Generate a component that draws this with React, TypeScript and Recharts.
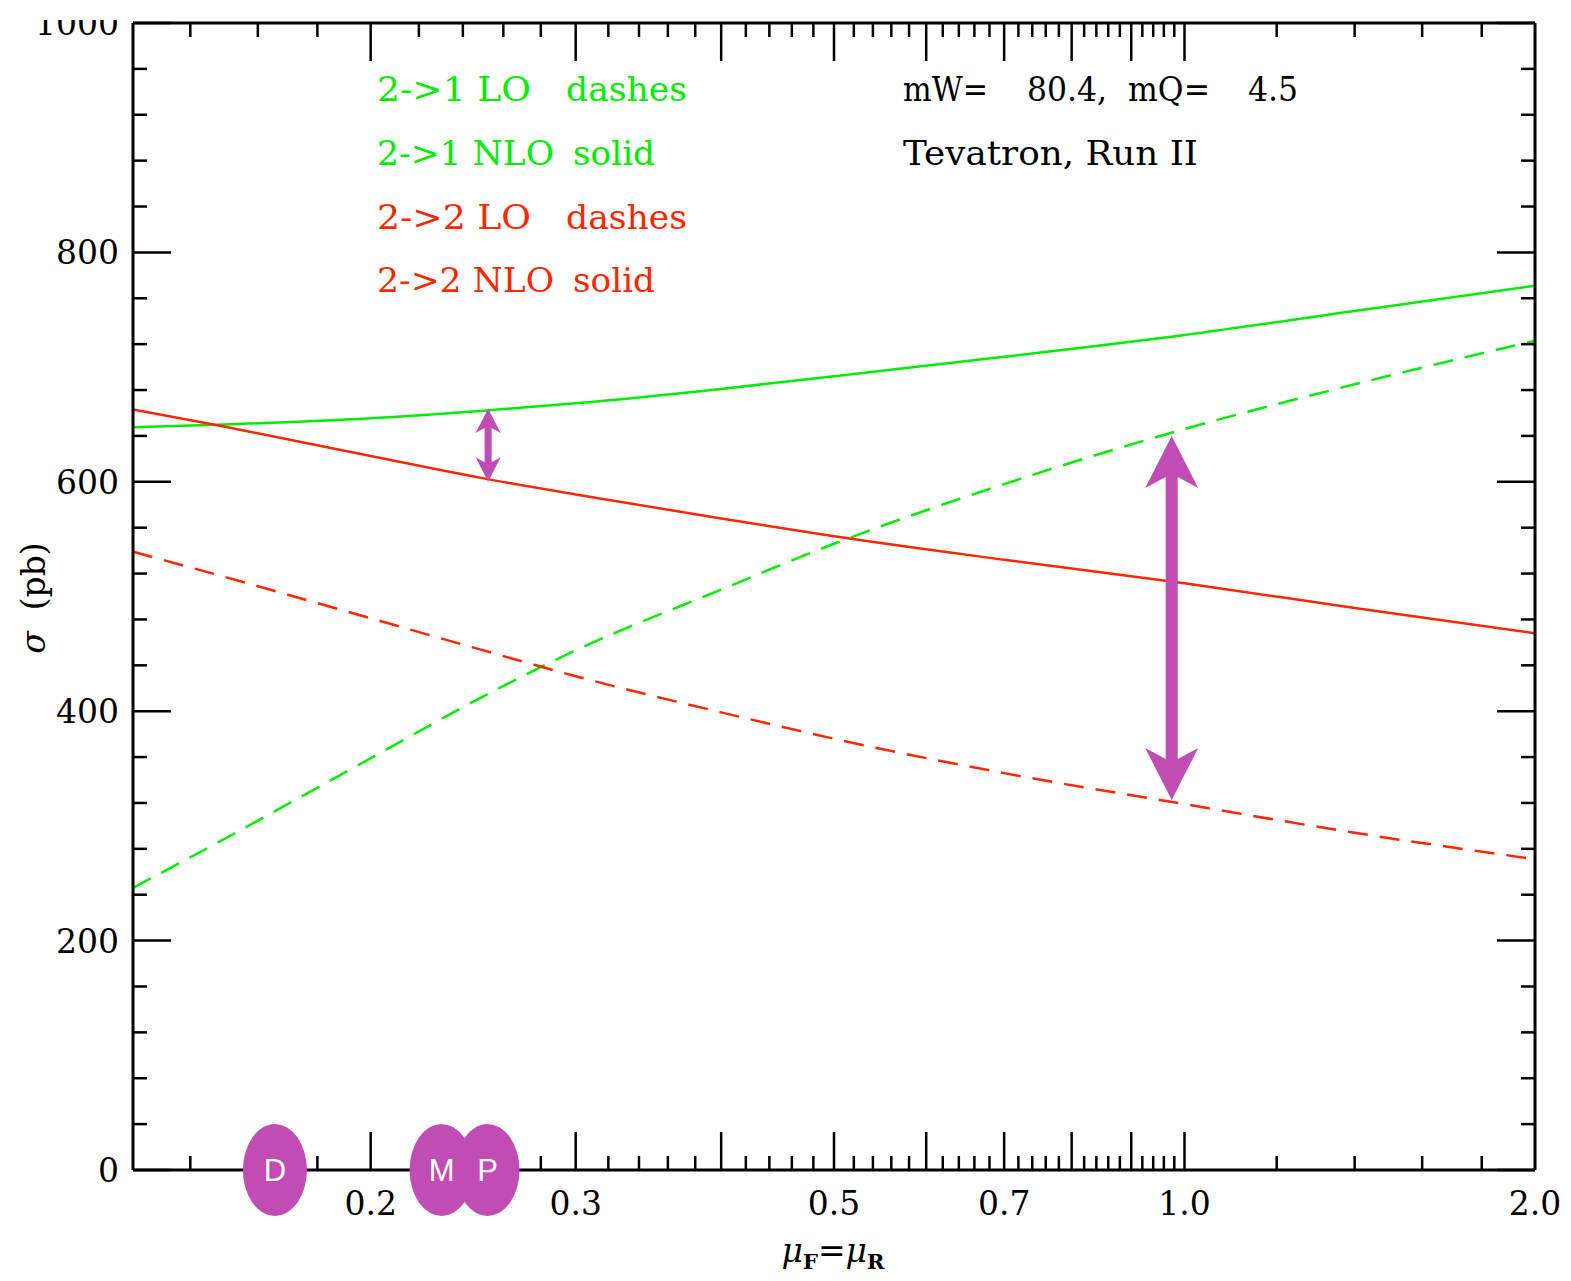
import React from 'react'
import { LineChart, Line, XAxis, YAxis, ReferenceLine, ReferenceDot } from 'recharts'

// scale mu_F = mu_R (in units of mW) and cross sections in pb
const mu = [0.125, 0.15, 0.2, 0.25, 0.3, 0.4, 0.5, 0.7, 1.0, 1.4, 2.0]
const nlo21 = [647.5, 650, 655.5, 662, 668.5, 681, 692, 709, 728, 749, 771]
const lo21 = [246, 289, 359, 413, 453, 506, 546, 598, 646, 685, 723]
const nlo22 = [663, 648, 622.5, 603, 589, 568, 552.5, 532, 511.5, 490, 468]
const lo22 = [539, 517, 481, 453, 430.5, 399, 376, 346, 319, 294, 271]

const xMajor = [0.2, 0.3, 0.4, 0.5, 0.6, 0.7, 0.8, 0.9, 1.0]
const xMinor = [
  0.14, 0.16, 0.18, 0.22, 0.24, 0.26, 0.28, 0.32, 0.34, 0.36, 0.38,
  0.42, 0.44, 0.46, 0.48, 0.52, 0.54, 0.56, 0.58, 0.62, 0.64, 0.66, 0.68,
  0.72, 0.74, 0.76, 0.78, 0.82, 0.84, 0.86, 0.88, 0.92, 0.94, 0.96, 0.98,
  1.2, 1.4, 1.6, 1.8,
]
// bottom ticks covered by the D / M / P markers
const xHiddenBottom = [0.16, 0.22, 0.24, 0.26]
const xLabels: Record<string, string> = { '0.2': '0.2', '0.3': '0.3', '0.5': '0.5', '0.7': '0.7', '1': '1.0', '2': '2.0' }
const yMajor = [0, 200, 400, 600, 800, 1000]
const yMinor = [40, 80, 120, 160, 240, 280, 320, 360, 440, 480, 520, 560, 640, 680, 720, 760, 840, 880, 920, 960]

// scale choices marked on the axis
const markers = [
  { name: 'D', mu: 0.1655 },
  { name: 'M', mu: 0.2301 },
  { name: 'P', mu: 0.252 },
]
// uncertainty arrows
const arrows = [
  { mu: 0.2523, top: 664, bottom: 600, big: false },
  { mu: 0.975, top: 640, bottom: 322.6, big: true },
]

const data = mu.map((m, i) => ({ mu: m, nlo21: nlo21[i], lo21: lo21[i], nlo22: nlo22[i], lo22: lo22[i] }))
const xTicksTop = [...xMajor, ...xMinor, 2.0].sort((a, b) => a - b)
const xTicksBottom = xTicksTop.filter((v) => !xHiddenBottom.includes(v))
const yTicks = [...yMajor, ...yMinor].sort((a, b) => a - b)

const GREEN = '#00ec00'
const RED = '#ff2600'
const PURPLE = '#c04db3'
const FONT = '"DejaVu Serif", serif'
const FS = 33

function xTick(p: any, side: 'top' | 'bottom') {
  const v = p.payload.value
  const len = xMajor.includes(v) ? 38 : 14
  const dir = side === 'bottom' ? -1 : 1
  const label = side === 'bottom' ? xLabels[String(v)] : undefined
  return (
    <g>
      {v < 2 && <line x1={p.x} y1={p.y} x2={p.x} y2={p.y + dir * len} stroke="#000" strokeWidth={2.5} />}
      {label && (
        <text x={p.x} y={p.y + 45} textAnchor="middle" fontFamily={FONT} fontSize={FS} fill="#000">{label}</text>
      )}
    </g>
  )
}

function yTick(p: any, side: 'left' | 'right') {
  const v = p.payload.value
  const major = yMajor.includes(v)
  const len = major ? 38 : 14
  const dir = side === 'left' ? 1 : -1
  return (
    <g>
      <line x1={p.x} y1={p.y} x2={p.x + dir * len} y2={p.y} stroke="#000" strokeWidth={2.5} />
      {side === 'left' && major && (
        <text x={p.x - 14} y={p.y + 12} textAnchor="end" fontFamily={FONT} fontSize={FS} fill="#000">{v}</text>
      )}
    </g>
  )
}

function arrowShape(p: any, big: boolean) {
  const { x1, y1, y2 } = p
  const hw = big ? 26.5 : 12.5
  const hl = big ? 52 : 24.5
  const notch = big ? 11 : 5
  const sw = big ? 6 : 3.5
  const top = Math.min(y1, y2)
  const bot = Math.max(y1, y2)
  const pts = [
    [x1, top], [x1 + hw, top + hl], [x1 + sw, top + hl - notch], [x1 + sw, bot - hl + notch],
    [x1 + hw, bot - hl], [x1, bot], [x1 - hw, bot - hl], [x1 - sw, bot - hl + notch],
    [x1 - sw, top + hl - notch], [x1 - hw, top + hl],
  ]
  return <polygon points={pts.map((q) => q.join(',')).join(' ')} fill={PURPLE} />
}

function markerShape(p: any, name: string) {
  return (
    <g>
      <ellipse cx={p.cx} cy={p.cy} rx={32} ry={46} fill={PURPLE} />
      <text x={p.cx} y={p.cy + 11} textAnchor="middle" fontFamily='"Liberation Sans", Arial, sans-serif' fontSize={31} fill="#fff">{name}</text>
    </g>
  )
}

const stretch = { lengthAdjust: 'spacingAndGlyphs' as const }

export default function App() {
  return (
    <div style={{ position: 'absolute', left: 0, top: 20, width: 1571, height: 1261, overflow: 'hidden', background: '#fff' }}>
      <div style={{ position: 'relative', top: -20, width: 1571, height: 1281 }}>
        <LineChart width={1571} height={1281} data={data} margin={{ top: 13, right: 26, bottom: 31, left: 33 }}>
          <XAxis xAxisId="b" dataKey="mu" type="number" scale="log" domain={[0.125, 2]} allowDataOverflow
            ticks={xTicksBottom} interval={0} tickSize={0} tickMargin={0} height={80}
            axisLine={{ stroke: '#000', strokeWidth: 3 }} tickLine={false} tick={(p: any) => xTick(p, 'bottom')} />
          <XAxis xAxisId="t" orientation="top" dataKey="mu" type="number" scale="log" domain={[0.125, 2]} allowDataOverflow
            ticks={xTicksTop} interval={0} tickSize={0} tickMargin={0} height={10}
            axisLine={{ stroke: '#000', strokeWidth: 3 }} tickLine={false} tick={(p: any) => xTick(p, 'top')} />
          <YAxis yAxisId="l" type="number" domain={[0, 1000]} allowDataOverflow ticks={yTicks} interval={0}
            tickSize={0} tickMargin={0} width={100}
            axisLine={{ stroke: '#000', strokeWidth: 3 }} tickLine={false} tick={(p: any) => yTick(p, 'left')} />
          <YAxis yAxisId="r" orientation="right" type="number" domain={[0, 1000]} allowDataOverflow ticks={yTicks} interval={0}
            tickSize={0} tickMargin={0} width={10}
            axisLine={{ stroke: '#000', strokeWidth: 3 }} tickLine={false} tick={(p: any) => yTick(p, 'right')} />

          <Line xAxisId="b" yAxisId="l" dataKey="lo21" type="monotone" stroke={GREEN} strokeWidth={2.5} strokeDasharray="20 12" dot={false} isAnimationActive={false} />
          <Line xAxisId="b" yAxisId="l" dataKey="nlo21" type="monotone" stroke={GREEN} strokeWidth={2.5} dot={false} isAnimationActive={false} />
          <Line xAxisId="b" yAxisId="l" dataKey="lo22" type="monotone" stroke={RED} strokeWidth={2.5} strokeDasharray="20 12" dot={false} isAnimationActive={false} />
          <Line xAxisId="b" yAxisId="l" dataKey="nlo22" type="monotone" stroke={RED} strokeWidth={2.5} dot={false} isAnimationActive={false} />

          {arrows.map((a, i) => (
            <ReferenceLine key={'a' + i} xAxisId="b" yAxisId="l" ifOverflow="visible"
              segment={[{ x: a.mu, y: a.top }, { x: a.mu, y: a.bottom }]}
              shape={(p: any) => arrowShape(p, a.big)} />
          ))}
          {markers.map((m) => (
            <ReferenceDot key={m.name} xAxisId="b" yAxisId="l" x={m.mu} y={0} ifOverflow="visible" zIndex={2500}
              shape={(p: any) => markerShape(p, m.name)} />
          ))}
        </LineChart>
        <svg width={1571} height={1281} style={{ position: 'absolute', left: 0, top: 0, pointerEvents: 'none' }}>
          <g fontFamily={FONT} fontSize={FS}>
            <text x={377} y={101} fill={GREEN} textLength={154} {...stretch}>2-&gt;1 LO</text>
            <text x={566} y={101} fill={GREEN} textLength={121} {...stretch}>dashes</text>
            <text x={377} y={165} fill={GREEN} textLength={177} {...stretch}>2-&gt;1 NLO</text>
            <text x={573} y={165} fill={GREEN} textLength={82} {...stretch}>solid</text>
            <text x={377} y={229} fill={RED} textLength={154} {...stretch}>2-&gt;2 LO</text>
            <text x={566} y={229} fill={RED} textLength={121} {...stretch}>dashes</text>
            <text x={377} y={292} fill={RED} textLength={177} {...stretch}>2-&gt;2 NLO</text>
            <text x={573} y={292} fill={RED} textLength={82} {...stretch}>solid</text>
            <text x={903} y={101} fill="#000" textLength={85} {...stretch}>mW=</text>
            <text x={1027} y={101} fill="#000" textLength={80} {...stretch}>80.4,</text>
            <text x={1128} y={101} fill="#000" textLength={82} {...stretch}>mQ=</text>
            <text x={1248} y={101} fill="#000" textLength={50} {...stretch}>4.5</text>
            <text x={903} y={165} fill="#000" textLength={295} {...stretch}>Tevatron, Run II</text>
            <text x={45} y={598} textAnchor="middle" transform="rotate(-90 45 598)" fill="#000" style={{ whiteSpace: 'pre' }}>
              <tspan fontStyle="italic">σ</tspan>  (pb)
            </text>
            <text x={833} y={1262} textAnchor="middle" fill="#000">
              <tspan fontStyle="italic">μ</tspan>
              <tspan fontSize={21} dy={7} fontWeight="bold">F</tspan>
              <tspan dy={-7}>=</tspan>
              <tspan fontStyle="italic">μ</tspan>
              <tspan fontSize={21} dy={7} fontWeight="bold">R</tspan>
            </text>
          </g>
        </svg>
      </div>
    </div>
  )
}
